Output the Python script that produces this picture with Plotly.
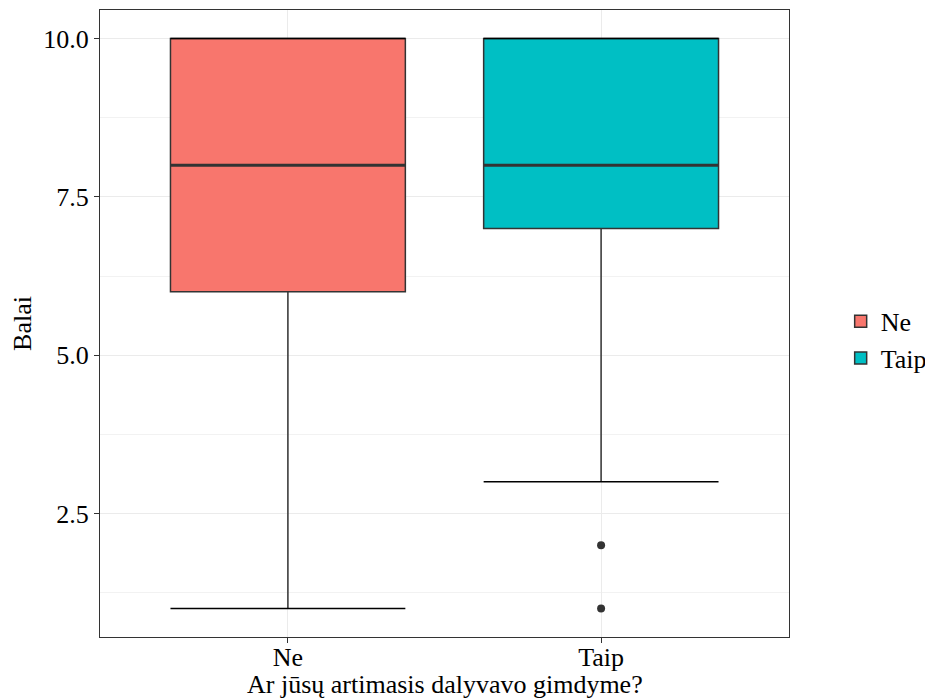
import plotly.graph_objects as go

categories = ["Ne", "Taip"]
q1 = [6, 7]
median = [8, 8]
q3 = [10, 10]
lower_whisker = [1, 3]
upper_whisker = [10, 10]
outliers_x = ["Taip", "Taip"]
outliers_y = [2, 1]
colors = ["#F8766D", "#00BFC4"]
x_title = "Ar jūsų artimasis dalyvavo gimdyme?"
y_title = "Balai"

FONT = "Liberation Serif"
FS = 26
pos = {c: i + 1 for i, c in enumerate(categories)}
hw = 0.375

fig = go.Figure()
for i, c in enumerate(categories):
    x = pos[c]
    fig.add_trace(go.Box(
        x=[x], q1=[q1[i]], median=[median[i]], q3=[q3[i]],
        lowerfence=[lower_whisker[i]], upperfence=[upper_whisker[i]],
        name=c, fillcolor=colors[i], line=dict(color="#333333", width=1.5),
        width=0.75, whiskerwidth=0, boxpoints=False, showlegend=True,
        hoverinfo="skip",
    ))
    # thicker median
    fig.add_trace(go.Scatter(x=[x - hw, x + hw], y=[median[i], median[i]], mode="lines",
                             line=dict(color="#333333", width=3), showlegend=False, hoverinfo="skip"))
    # whisker caps
    for v in (lower_whisker[i], upper_whisker[i]):
        fig.add_trace(go.Scatter(x=[x - hw, x + hw], y=[v, v], mode="lines",
                                 line=dict(color="black", width=1.5), showlegend=False, hoverinfo="skip"))

fig.add_trace(go.Scatter(x=[pos[c] for c in outliers_x], y=outliers_y, mode="markers",
                         marker=dict(color="#333333", size=8), showlegend=False, hoverinfo="skip"))

fig.add_annotation(text=x_title, xref="paper", yref="paper", x=0.5, y=0,
                   xanchor="center", yanchor="middle", yshift=-47, showarrow=False,
                   font=dict(family=FONT, size=FS, color="black"))

fig.update_layout(
    width=933, height=700,
    margin=dict(l=92, r=152, t=2, b=71, autoexpand=False),
    paper_bgcolor="white", plot_bgcolor="white",
    font=dict(family=FONT, size=FS, color="black"),
    legend=dict(x=1.075, y=0.474, yanchor="middle", xanchor="left", font=dict(size=FS),
                bgcolor="rgba(0,0,0,0)", tracegroupgap=0),
    xaxis=dict(range=[0.4, 2.6], tickvals=[1, 2], ticktext=categories,
               showgrid=True, gridcolor="#EBEBEB", gridwidth=1.2,
               ticks="outside", ticklen=5, tickcolor="#333333", tickwidth=1.2,
               showline=True, linecolor="#333333", linewidth=1.2, mirror=True,
               zeroline=False, tickfont=dict(size=FS, color="black"),
               ticklabelstandoff=-8),
    yaxis=dict(range=[0.55, 10.45], tickvals=[2.5, 5, 7.5, 10], ticktext=["2.5", "5.0", "7.5", "10.0"],
               showgrid=True, gridcolor="#EBEBEB", gridwidth=1.2,
               minor=dict(showgrid=True, tickvals=[1.25, 3.75, 6.25, 8.75], gridcolor="#F2F2F2", gridwidth=0.6),
               ticks="outside", ticklen=5, tickcolor="#333333", tickwidth=1.2,
               showline=True, linecolor="#333333", linewidth=1.2, mirror=True,
               zeroline=False, tickfont=dict(size=FS, color="black"),
               title=dict(text=y_title, standoff=6, font=dict(size=FS))),
)

fig.write_html("out.html")
